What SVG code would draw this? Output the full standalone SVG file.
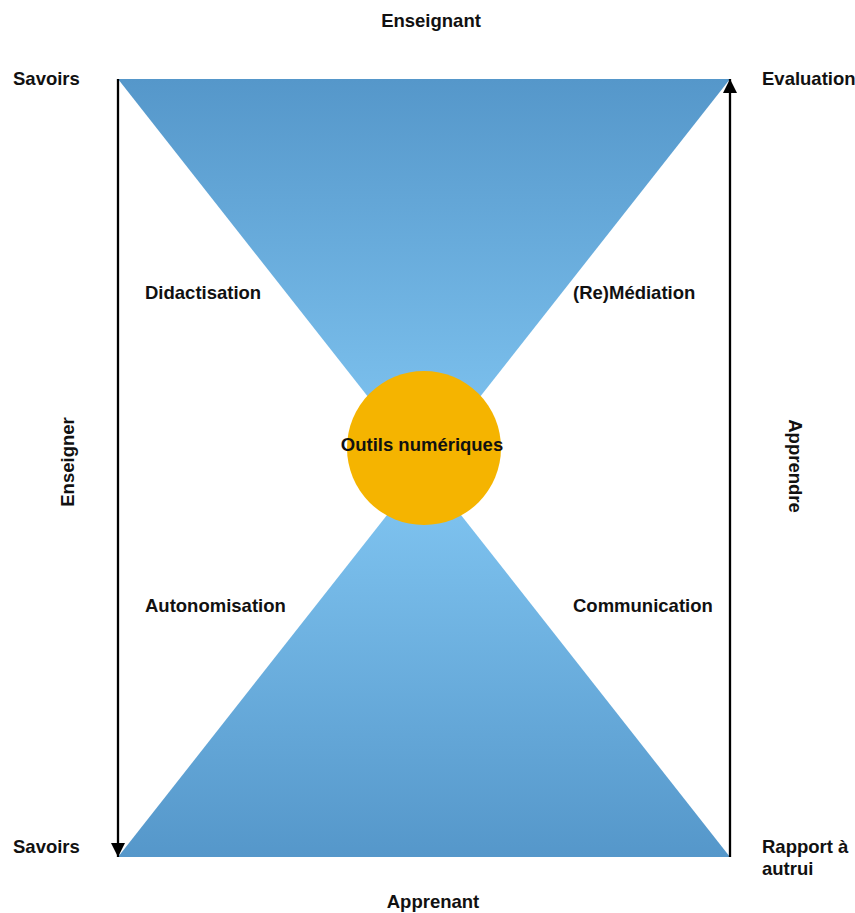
<svg xmlns="http://www.w3.org/2000/svg" width="855" height="913" viewBox="0 0 855 913">
<style>
text{font-family:"Liberation Sans",Arial,sans-serif;font-weight:bold;font-size:18.5px;fill:#111}
.c{text-anchor:middle}
.ln{stroke:#000;stroke-width:2.3;fill:none}
</style>
<defs>
<linearGradient id="gTop" x1="0" y1="0" x2="0" y2="1">
<stop offset="0" stop-color="#5597ca"/>
<stop offset="1" stop-color="#82c7f3"/>
</linearGradient>
<linearGradient id="gBot" x1="0" y1="0" x2="0" y2="1">
<stop offset="0" stop-color="#82c7f3"/>
<stop offset="1" stop-color="#5597ca"/>
</linearGradient>
<marker id="ah" viewBox="0 0 14 14" refX="14" refY="7" markerWidth="14" markerHeight="14" markerUnits="userSpaceOnUse" orient="auto">
<path d="M0,0 L14,7 L0,14 Z" fill="#000"/>
</marker>
</defs>
<rect width="855" height="913" fill="#fff"/>
<g id="shapes">
<polygon id="top-triangle" points="118,79 730,79 424,468" fill="url(#gTop)"/>
<polygon id="bottom-triangle" points="118,857 730,857 424,468" fill="url(#gBot)"/>
</g>
<g id="connectors">
<line class="ln" x1="118" y1="79" x2="118" y2="857" marker-end="url(#ah)"/>
<line class="ln" x1="730" y1="857" x2="730" y2="79" marker-end="url(#ah)"/>
</g>
<g id="center">
<circle cx="424" cy="448" r="77" fill="#f5b400"/>
<text class="c" x="422" y="451">Outils numériques</text>
</g>
<g id="labels">
<text class="c" x="431" y="27">Enseignant</text>
<text x="13" y="85">Savoirs</text>
<text x="762" y="85">Evaluation</text>
<text x="145" y="299">Didactisation</text>
<text x="573" y="299">(Re)Médiation</text>
<text x="145" y="612">Autonomisation</text>
<text x="573" y="612">Communication</text>
<text x="13" y="853">Savoirs</text>
<text x="762" y="853">Rapport à</text>
<text x="762" y="875">autrui</text>
<text class="c" x="433" y="908">Apprenant</text>
<text class="c" transform="translate(74,462) rotate(-90)">Enseigner</text>
<text class="c" transform="translate(789,466) rotate(90)">Apprendre</text>
</g>
</svg>
